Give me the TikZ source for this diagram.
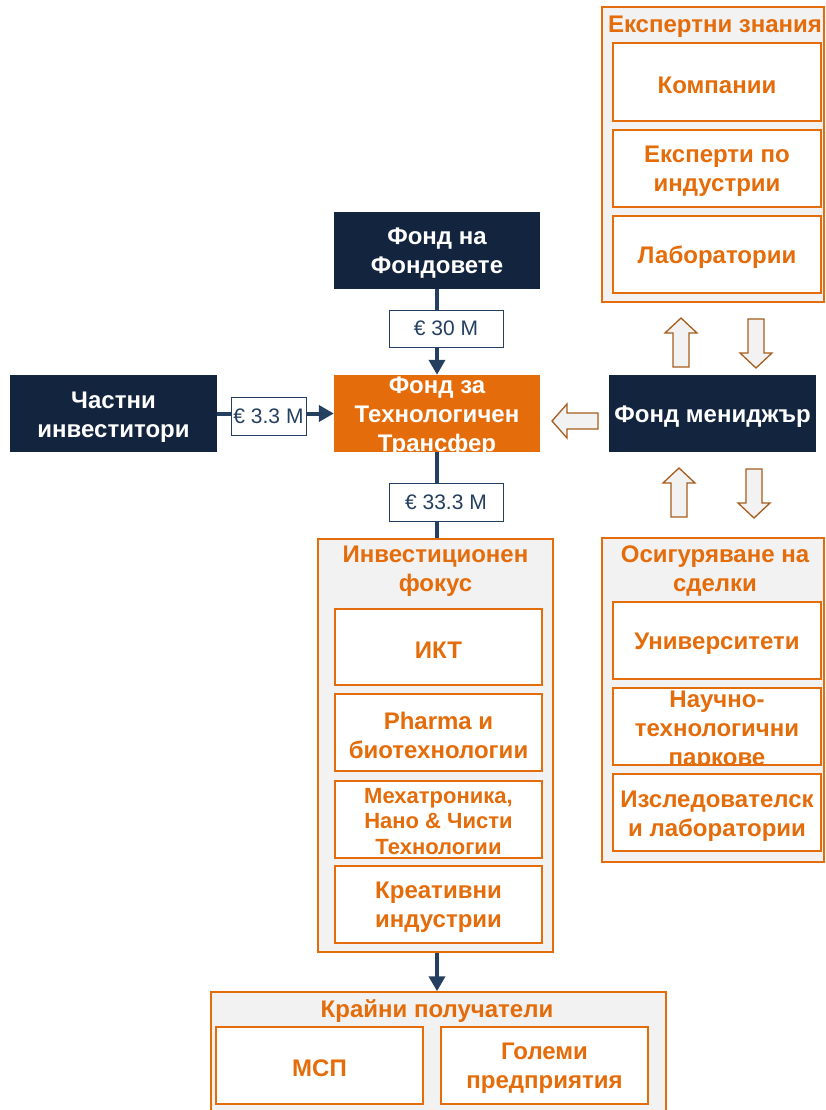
\documentclass[tikz,border=0pt]{standalone}
\usepackage{fontspec}
\setmainfont{Liberation Sans}
\usetikzlibrary{arrows.meta}
\definecolor{navy}{HTML}{13243F}
\definecolor{orng}{HTML}{E46C0A}
\definecolor{lgray}{HTML}{F2F2F2}
\definecolor{conn}{HTML}{243F60}
\definecolor{brn}{HTML}{A65C1C}
\tikzset{
  x=1pt, y=-1pt,
  bigfont/.style={font=\bfseries\fontsize{24}{29}\selectfont},
  darkbox/.style={fill=navy, inner sep=0pt},
  wtxt/.style={text=white, inner sep=0pt, align=center, bigfont, yshift=-3pt},
  orbox/.style={fill=orng, inner sep=0pt},
  grp/.style={draw=orng, fill=lgray, line width=1.5pt, inner sep=0pt},
  ibox/.style={draw=orng, fill=white, line width=1.5pt, inner sep=0pt},
  itxt/.style={text=orng, inner sep=0pt, align=center, bigfont, yshift=-3pt},
  gtitle/.style={text=orng, inner sep=0pt, align=center, bigfont},
  money/.style={draw=conn, fill=white, line width=1pt, inner sep=0pt, text=conn,
    font=\fontsize{21}{24}\selectfont},
  conn/.style={draw=conn, line width=4pt},
  connarr/.style={conn, -{Triangle[width=16pt,length=15pt]}},
  harrow/.style={draw=brn, fill=lgray, line width=1.3pt, line join=miter},
  uparr/.pic={\path[harrow] (0,0) -- (16,15) -- (8,15) -- (8,49) -- (-8,49) -- (-8,15) -- (-16,15) -- cycle;},
  dnarr/.pic={\path[harrow] (0,0) -- (16,-15) -- (8,-15) -- (8,-49) -- (-8,-49) -- (-8,-15) -- (-16,-15) -- cycle;},
  lfarr/.pic={\path[harrow] (0,0) -- (15,-17) -- (15,-8) -- (46,-8) -- (46,8) -- (15,8) -- (15,17) -- cycle;},
}
\begin{document}
\begin{tikzpicture}
\useasboundingbox (0,0) rectangle (825,1110);

% main boxes
\node[darkbox, minimum width=206pt, minimum height=77pt] (ff) at (437,250.5) {};
\node[wtxt] (ff-t) at (ff.center) {Фонд на\\Фондовете};
\node[orbox, minimum width=206pt, minimum height=77pt] (ftt) at (437,413.5) {};
\begin{scope}
  \clip (ftt.south west) rectangle (ftt.north east);
  \node[wtxt] (ftt-t) at (ftt.center) {Фонд за\\Технологичен\\Трансфер};
\end{scope}
\node[darkbox, minimum width=207pt, minimum height=77pt] (pi) at (113.5,413.5) {};
\node[wtxt, yshift=-1pt] (pi-t) at (pi.center) {Частни\\инвеститори};
\node[darkbox, minimum width=207pt, minimum height=77pt] (fm) at (712.5,413.5) {};
\node[wtxt] (fm-t) at (fm.center) {Фонд мениджър};

% Experts group
\node[grp, minimum width=222pt, minimum height=295pt] (eg) at (713,154.5) {};
\node[gtitle] (eg-t) at (715,27) {Експертни знания};
\node[ibox, minimum width=208pt, minimum height=78pt] (e1) at (717,82) {};
\node[itxt] (e1-t) at (e1.center) {Компании};
\node[ibox, minimum width=208pt, minimum height=77pt] (e2) at (717,168.5) {};
\node[itxt] (e2-t) at (e2.center) {Експерти по\\индустрии};
\node[ibox, minimum width=208pt, minimum height=77pt] (e3) at (717,254.5) {};
\node[itxt] (e3-t) at (e3.center) {Лаборатории};

% Deal sourcing group
\node[grp, minimum width=222pt, minimum height=324pt] (dg) at (713,700) {};
\node[gtitle] (dg-t) at (715,571) {Осигуряване на\\сделки};
\node[ibox, minimum width=208pt, minimum height=77pt] (d1) at (717,640.5) {};
\node[itxt] (d1-t) at (d1.center) {Университети};
\node[ibox, minimum width=208pt, minimum height=77pt] (d2) at (717,726.5) {};
\begin{scope}
  \clip (d2.south west) rectangle (d2.north east);
  \node[itxt, yshift=-1pt] (d2-t) at (d2.center) {Научно-\\технологични\\паркове};
\end{scope}
\node[ibox, minimum width=208pt, minimum height=77pt] (d3) at (717,812.5) {};
\node[itxt, yshift=-1pt] (d3-t) at (d3.center) {Изследователск\\и лаборатории};

% Investment focus group
\node[grp, minimum width=235pt, minimum height=413pt] (ig) at (435.5,745.5) {};
\node[gtitle] (ig-t) at (435.5,571.5) {Инвестиционен\\фокус};
\node[ibox, minimum width=207pt, minimum height=76pt] (i1) at (438.5,647) {};
\node[itxt] (i1-t) at (i1.center) {ИКТ};
\node[ibox, minimum width=207pt, minimum height=77pt] (i2) at (438.5,732.5) {};
\node[itxt] (i2-t) at (i2.center) {Pharma и\\биотехнологии};
\node[ibox, minimum width=207pt, minimum height=77pt] (i3) at (438.5,819.5) {};
\begin{scope}
  \clip (i3.south west) rectangle (i3.north east);
  \node[itxt, yshift=1pt, font=\bfseries\fontsize{22}{25.5}\selectfont] (i3-t) at (i3.center) {Мехатроника,\\Нано \& Чисти\\Технологии};
\end{scope}
\node[ibox, minimum width=207pt, minimum height=77pt] (i4) at (438.5,904.5) {};
\node[itxt] (i4-t) at (i4.center) {Креативни\\индустрии};

% Final recipients group
\node[grp, minimum width=455pt, minimum height=130pt] (kg) at (438.5,1057) {};
\node[gtitle] (kg-t) at (437,1011) {Крайни получатели};
\node[ibox, minimum width=207pt, minimum height=77pt] (k1) at (319.5,1065.5) {};
\node[itxt] (k1-t) at (k1.center) {МСП};
\node[ibox, minimum width=207pt, minimum height=77pt] (k2) at (544.5,1065.5) {};
\node[itxt] (k2-t) at (k2.center) {Големи\\предприятия};

% connectors
\draw[connarr] (ff.south) -- (ftt.north);
\draw[connarr] (pi.east) -- (ftt.west);
\draw[conn] (ftt.south) -- (ftt.south |- ig.north);
\draw[connarr] (ftt.south |- ig.south) -- (ftt.south |- kg.north);

% money labels
\node[money, minimum width=114pt, minimum height=37pt] (m30) at (446,328.5) {€ 30 M};
\node[money, minimum width=75pt, minimum height=38pt] (m33) at (268.5,416) {€ 3.3 M};
\node[money, minimum width=114pt, minimum height=38pt] (m333) at (446,502.5) {€ 33.3 M};

% hollow arrows
\pic at (552,421) {lfarr};
\pic at (681,318) {uparr};
\pic at (756,368) {dnarr};
\pic at (679,468) {uparr};
\pic at (754,518) {dnarr};
\end{tikzpicture}
\end{document}
